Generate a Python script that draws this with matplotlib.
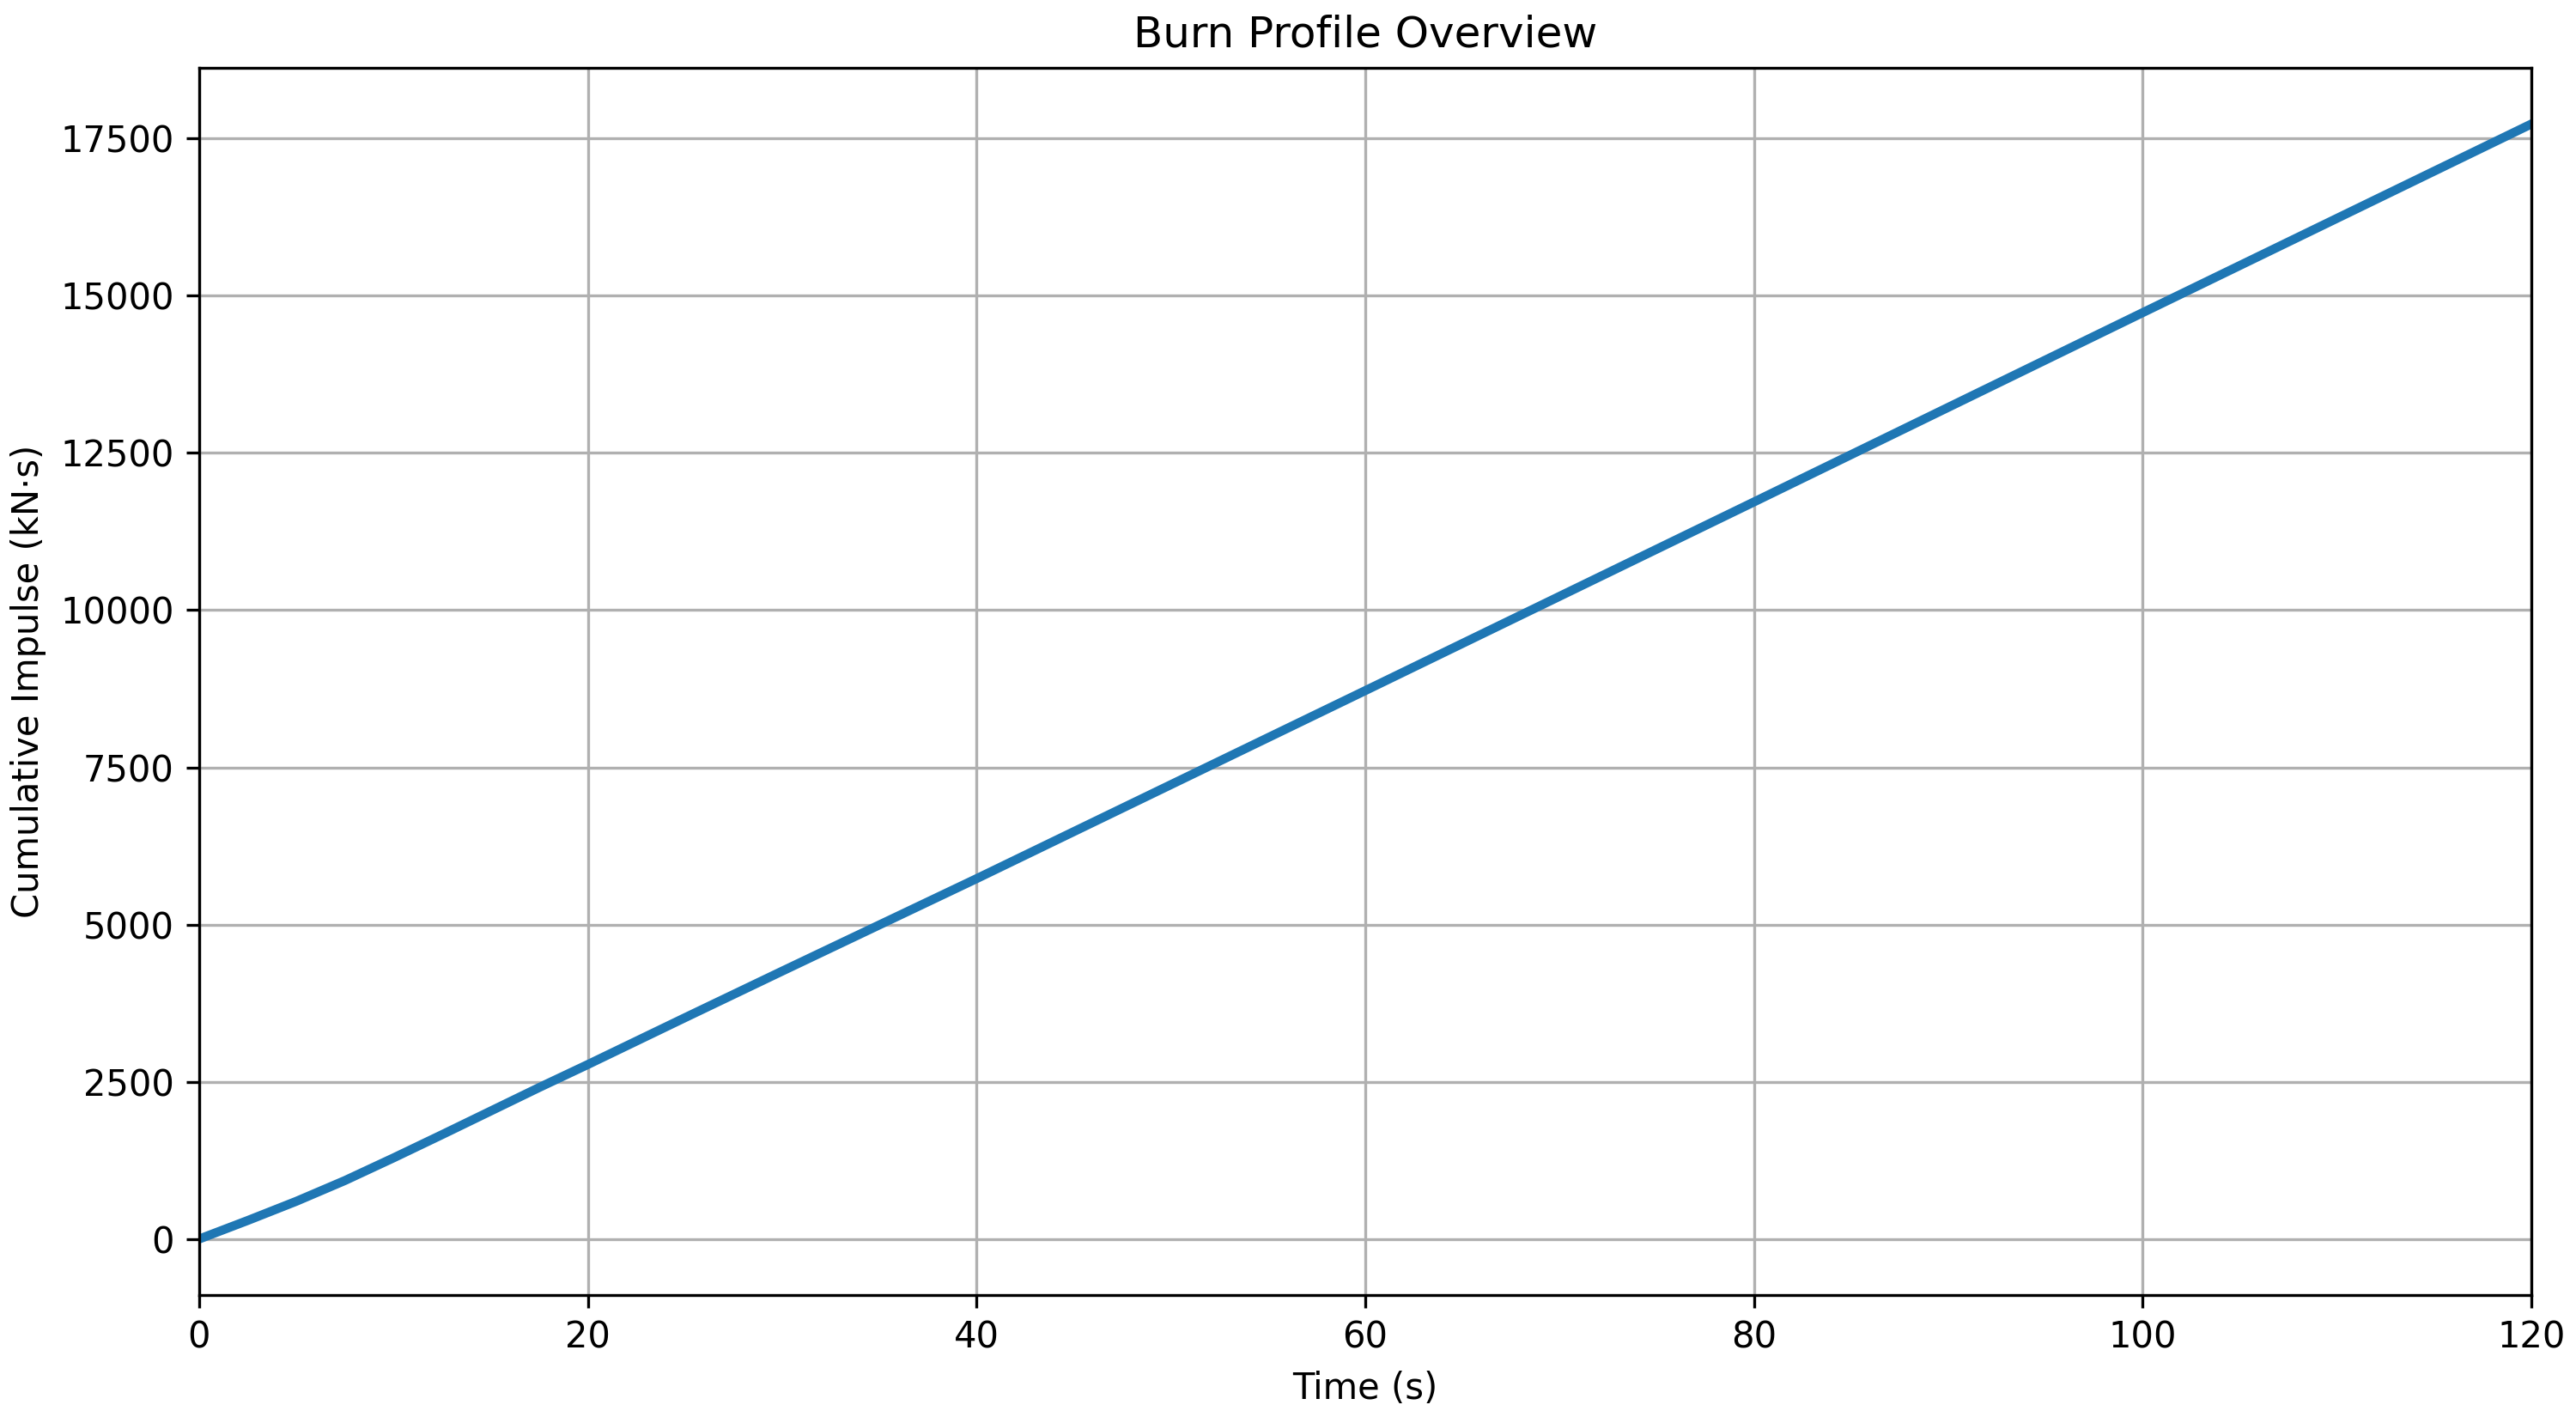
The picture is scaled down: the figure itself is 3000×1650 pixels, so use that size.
"""Cumulative impulse over the burn, single line on a grid."""

import matplotlib

matplotlib.use("Agg")
import matplotlib.pyplot as plt

# seconds since ignition
time_s = [0, 2.5, 5, 7.5, 10, 12.5, 15, 17.5, 20, 25, 30, 40, 50, 60, 70, 80, 90, 100, 110, 120]
# cumulative impulse, kN*s
impulse_kns = [
    0, 295, 600, 930, 1290, 1660, 2035, 2410, 2775, 3520, 4260,
    5730, 7225, 8720, 10220, 11720, 13225, 14730, 16230, 17730,
]

_LINE_COLOR = "#1f77b4"


def main() -> None:
    fig, ax = plt.subplots(figsize=(10, 5.5))
    ax.plot(time_s, impulse_kns, color=_LINE_COLOR, linewidth=2.5)
    ax.set_xlim(0, 120)
    ax.set_xlabel("Time (s)")
    ax.set_ylabel("Cumulative Impulse (kN·s)")
    ax.set_title("Burn Profile Overview")
    ax.grid(True)
    fig.tight_layout(pad=0.3)
    fig.savefig("out.png", dpi=300)
    plt.close(fig)


if __name__ == "__main__":
    main()
